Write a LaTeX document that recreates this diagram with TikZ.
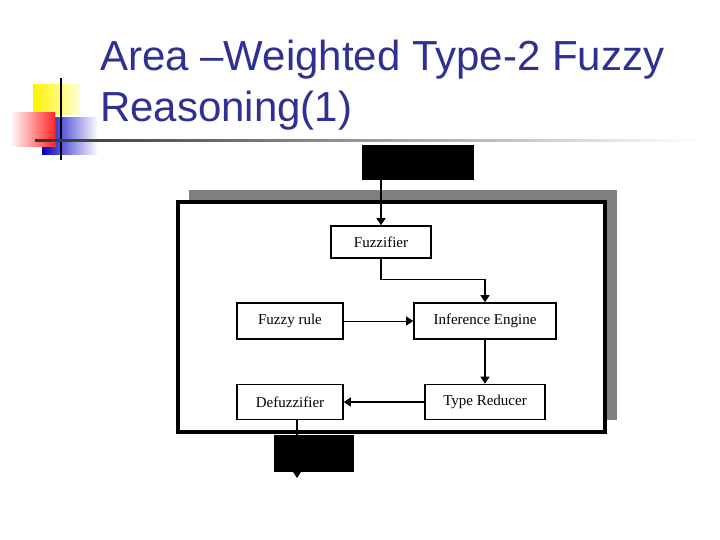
\documentclass[tikz,border=0pt]{standalone}
\usepackage{fontspec}
\setmainfont{Liberation Serif}
\newfontfamily\titlefont{Liberation Sans}
\usetikzlibrary{arrows.meta}
\definecolor{ttl}{HTML}{2E3192}
\begin{document}
\begin{tikzpicture}[x=1pt,y=-1pt,
  box/.style={draw,line width=1.6pt,font=\fontsize{15}{16}\selectfont,inner sep=0pt},
  blk/.style={fill=black,draw=black},
  arr/.style={line width=1.2pt,-{Triangle[length=7pt,width=9pt]}},
  thin/.style={line width=0.6pt,-{Triangle[length=7pt,width=9pt]}}]
\useasboundingbox (0,0) rectangle (720,540);
\fill[white] (0,0) rectangle (720,540);
% logo
\shade[left color=yellow!90!orange,right color=yellow!15] (33,85) rectangle (80,115);
\shade[left color=blue!75!black,right color=white] (42,118) rectangle (98,155);
\shade[left color=red!70!white,right color=white,shading angle=0] (10,113) rectangle (55,147);
\shade[left color=white,right color=red!85] (10,113) rectangle (55,147);
\draw[line width=1.2pt] (61,78) -- (61,160);
\shade[left color=black!80,right color=white] (35,140) rectangle (700,142);
% title
\node[anchor=west,text=ttl,font=\titlefont\fontsize{42}{46}\selectfont,inner sep=0pt] (t1) at (100,60) {Area –Weighted Type-2 Fuzzy};
\node[anchor=west,text=ttl,font=\titlefont\fontsize{42}{46}\selectfont,inner sep=0pt] (t2) at (100,111) {Reasoning(1)};
% diagram
\fill[black!50] (189,190) rectangle (617,420);
\draw[line width=3.5pt,fill=white] (178,202) rectangle (605,432);
\node[blk,minimum width=111pt,minimum height=34pt] (in) at (417.5,162) {};
\node[blk,minimum width=79pt,minimum height=36pt] (out) at (313.5,453) {};
\node[box,minimum width=100pt,minimum height=32pt] (fz) at (381,242) {Fuzzifier};
\node[box,minimum width=106pt,minimum height=36pt] (fr) at (290,321) {Fuzzy rule};
\node[box,minimum width=142pt,minimum height=36pt] (ie) at (485,321) {Inference Engine};
\node[box,minimum width=106pt,minimum height=35pt] (df) at (290,402) {Defuzzifier};
\node[box,minimum width=120pt,minimum height=35pt] (tr) at (485,402) {Type Reducer};
\coordinate (e) at (297,478);
\draw[arr] (in.south -| fz.north) -- (fz.north);
\draw[arr] (fz.south) -- ++(0,21) -| (ie.north);
\draw[thin] (fr.east) -- (ie.west);
\draw[arr] (ie.south) -- (tr.north);
\draw[arr] (tr.west) -- (df.east);
\draw[arr] (df.south -| e) -- (e);
\end{tikzpicture}
\end{document}
